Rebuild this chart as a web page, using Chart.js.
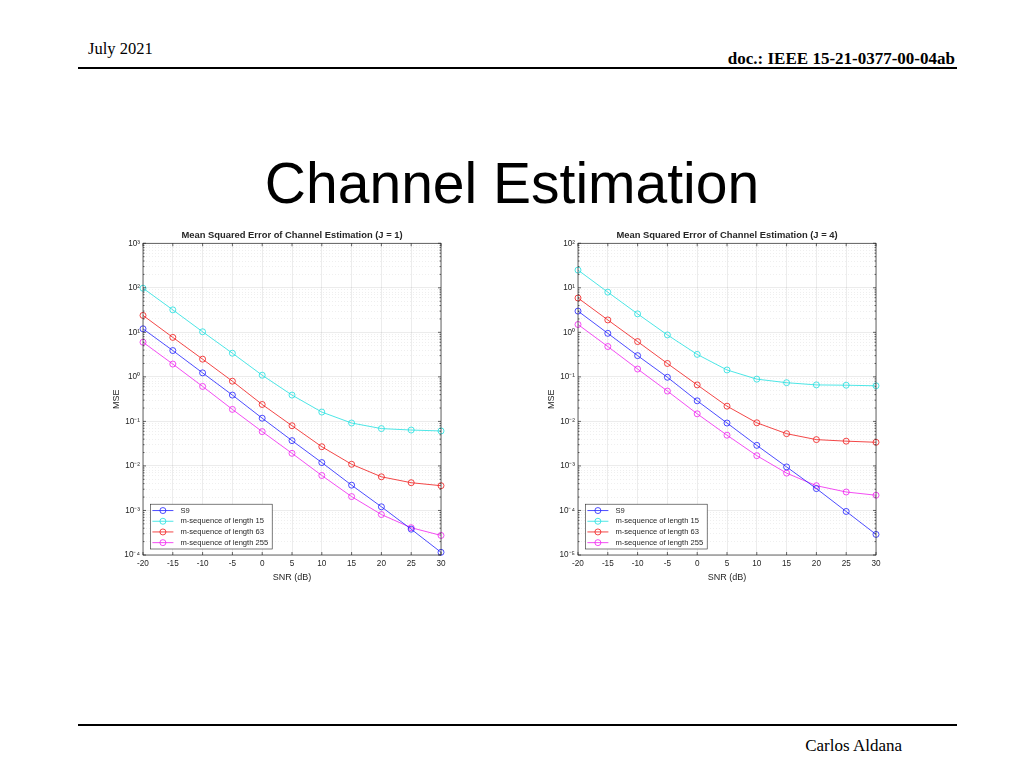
<!DOCTYPE html>
<html>
<head>
<meta charset="utf-8">
<script src="https://cdn.jsdelivr.net/npm/chart.js@4.4.0/dist/chart.umd.min.js"></script>
<style>
  body { margin: 0; width: 1024px; height: 768px; background: #fff; position: relative; overflow: hidden; font-family: "Liberation Serif", "Times New Roman", serif; }
  .abs { position: absolute; white-space: nowrap; line-height: 1; }
  .rule { position: absolute; left: 78px; width: 879px; height: 2px; background: #000; }
  .box { position: absolute; top: 228px; width: 350px; height: 360px; }
</style>
</head>
<body>
<div class="abs" style="left:88px;top:41px;font-size:16.5px;">July 2021</div>
<div class="abs" style="right:69px;top:50px;font-size:17px;font-weight:bold;">doc.: IEEE 15-21-0377-00-04ab</div>
<div class="rule" style="top:67px;"></div>
<div class="abs" style="left:0;width:1024px;text-align:center;top:155px;font-size:57px;font-family:'Liberation Sans',Arial,sans-serif;">Channel Estimation</div>
<div class="box" style="left:100px;"><canvas id="c1"></canvas></div>
<div class="box" style="left:535px;"><canvas id="c2"></canvas></div>
<div class="rule" style="top:724px;"></div>
<div class="abs" style="right:122px;top:737px;font-size:17px;">Carlos Aldana</div>

<script>
const snr = [-20, -15, -10, -5, 0, 5, 10, 15, 20, 25, 30];
const seriesNames = ["S9", "m-sequence of length 15", "m-sequence of length 63", "m-sequence of length 255"];
const seriesColors = ["#1f1fff", "#20e0e0", "#f01818", "#f020f0"];

// J = 1
const s9J1 = [12, 3.9, 1.23, 0.39, 0.118, 0.037, 0.0119, 0.0037, 0.00121, 0.00038, 0.000115];
const m15J1 = [98, 32, 10.3, 3.4, 1.09, 0.39, 0.162, 0.092, 0.069, 0.064, 0.061];
const m63J1 = [24, 7.7, 2.5, 0.8, 0.24, 0.08, 0.027, 0.0109, 0.0057, 0.0042, 0.0036];
const m255J1 = [6.0, 1.94, 0.61, 0.186, 0.059, 0.0192, 0.0061, 0.00205, 0.00081, 0.00041, 0.000275];

// J = 4
const s9J4 = [3.0, 0.95, 0.3, 0.098, 0.029, 0.0092, 0.0029, 0.00095, 0.00031, 0.000095, 0.000029];
const m15J4 = [25, 8.0, 2.6, 0.875, 0.32, 0.143, 0.089, 0.074, 0.066, 0.065, 0.063];
const m63J4 = [5.9, 1.9, 0.62, 0.2, 0.066, 0.022, 0.0093, 0.0053, 0.0039, 0.0036, 0.0034];
const m255J4 = [1.5, 0.48, 0.15, 0.048, 0.0148, 0.0049, 0.0017, 0.00069, 0.00036, 0.00026, 0.00022];

const sup = { "-": "⁻", "0": "⁰", "1": "¹", "2": "²", "3": "³", "4": "⁴", "5": "⁵" };
const isDecade = (v) => Math.abs(Math.log10(v) - Math.round(Math.log10(v))) < 1e-9;
const decadeLabel = (v) => "10" + String(Math.round(Math.log10(v))).split("").map((c) => sup[c]).join("");

const textColor = "#262626";
const sans = "'Liberation Sans', Arial, sans-serif";

// axes box with inward ticks, like matlab
const axesBox = {
  id: "axesBox",
  afterDraw(chart) {
    const { ctx, chartArea: a, scales: { x, y } } = chart;
    ctx.save();
    ctx.strokeStyle = textColor;
    ctx.lineWidth = 0.7;
    ctx.strokeRect(a.left, a.top, a.right - a.left, a.bottom - a.top);
    ctx.beginPath();
    x.ticks.forEach((t) => {
      const px = x.getPixelForValue(t.value);
      ctx.moveTo(px, a.bottom); ctx.lineTo(px, a.bottom - 3);
      ctx.moveTo(px, a.top); ctx.lineTo(px, a.top + 3);
    });
    y.ticks.forEach((t) => {
      const py = y.getPixelForValue(t.value);
      const len = isDecade(t.value) ? 3 : 1.5;
      ctx.moveTo(a.left, py); ctx.lineTo(a.left + len, py);
      ctx.moveTo(a.right, py); ctx.lineTo(a.right - len, py);
    });
    ctx.stroke();
    ctx.restore();
  },
};

// legend drawn inside the axes, bottom left
const innerLegend = {
  id: "innerLegend",
  afterDatasetsDraw(chart) {
    const { ctx, chartArea: a } = chart;
    const rowH = 10.7;
    ctx.save();
    ctx.font = "7.6px " + sans;
    const names = chart.data.datasets.map((d) => d.label);
    const w = Math.max(...names.map((n) => ctx.measureText(n).width)) + 34;
    const h = rowH * names.length + 2;
    const left = a.left + 7.4;
    const top = a.bottom - 6 - h;
    ctx.fillStyle = "#fff";
    ctx.fillRect(left, top, w, h);
    ctx.strokeStyle = textColor;
    ctx.lineWidth = 0.6;
    ctx.strokeRect(left, top, w, h);
    chart.data.datasets.forEach((d, i) => {
      const cy = top + 1 + rowH * (i + 0.5);
      ctx.strokeStyle = d.borderColor;
      ctx.lineWidth = 0.8;
      ctx.beginPath();
      ctx.moveTo(left + 2, cy); ctx.lineTo(left + 23, cy);
      ctx.stroke();
      ctx.beginPath();
      ctx.arc(left + 12.5, cy, 3, 0, Math.PI * 2);
      ctx.stroke();
      ctx.fillStyle = textColor;
      ctx.textBaseline = "middle";
      ctx.fillText(d.label, left + 30, cy);
    });
    ctx.restore();
  },
};

function makeChart(id, title, lists, lo, hi) {
  return new Chart(document.getElementById(id), {
    type: "line",
    data: {
      datasets: lists.map((vals, i) => ({
        label: seriesNames[i],
        data: snr.map((s, j) => ({ x: s, y: vals[j] })),
        borderColor: seriesColors[i],
        backgroundColor: "rgba(0,0,0,0)",
        borderWidth: 0.8,
        pointRadius: 3,
        pointBorderWidth: 0.8,
        pointBackgroundColor: "rgba(0,0,0,0)",
        pointBorderColor: seriesColors[i],
        tension: 0,
        clip: false,
      })),
    },
    options: {
      responsive: true,
      maintainAspectRatio: false,
      animation: false,
      layout: { padding: { left: 0, right: 9, top: 0, bottom: 0 } },
      plugins: {
        legend: { display: false },
        tooltip: { enabled: false },
        title: {
          display: true,
          text: title,
          fullSize: false,
          color: textColor,
          font: { family: sans, size: 9.4, weight: "bold" },
          padding: { top: 2, bottom: 2 },
        },
      },
      scales: {
        x: {
          type: "linear",
          min: -20,
          max: 30,
          afterFit: (s) => { s.height = 33; },
          ticks: { stepSize: 5, padding: 4, color: textColor, font: { family: sans, size: 8.2 } },
          grid: { color: "rgba(0,0,0,0.11)", lineWidth: 0.7, drawTicks: false },
          border: { display: false },
          title: {
            display: true,
            text: "SNR (dB)",
            color: textColor,
            font: { family: sans, size: 9 },
            padding: { top: 0, bottom: 5.5 },
          },
        },
        y: {
          type: "logarithmic",
          min: Math.pow(10, lo),
          max: Math.pow(10, hi),
          afterFit: (s) => { s.width = 43; },
          afterBuildTicks: (s) => {
            const t = [];
            for (let e = lo; e < hi; e++) {
              for (let m = 1; m < 10; m++) t.push({ value: m * Math.pow(10, e) });
            }
            t.push({ value: Math.pow(10, hi) });
            s.ticks = t;
          },
          ticks: {
            autoSkip: false,
            padding: 3,
            color: textColor,
            font: { family: sans, size: 8.2 },
            callback: (v) => (isDecade(v) ? decadeLabel(v) : ""),
          },
          grid: {
            color: (c) => (isDecade(c.tick.value) ? "rgba(0,0,0,0.11)" : "rgba(0,0,0,0.09)"),
            lineWidth: 0.7,
            drawTicks: false,
          },
          border: { display: false, dash: (c) => (isDecade(c.tick.value) ? [] : [1, 2]) },
          title: {
            display: true,
            text: "MSE",
            color: textColor,
            font: { family: sans, size: 9 },
            padding: { top: 11, bottom: 0 },
          },
        },
      },
    },
    plugins: [innerLegend, axesBox],
  });
}

makeChart("c1", "Mean Squared Error of Channel Estimation (J = 1)", [s9J1, m15J1, m63J1, m255J1], -4, 3);
makeChart("c2", "Mean Squared Error of Channel Estimation (J = 4)", [s9J4, m15J4, m63J4, m255J4], -5, 2);
</script>
</body>
</html>
